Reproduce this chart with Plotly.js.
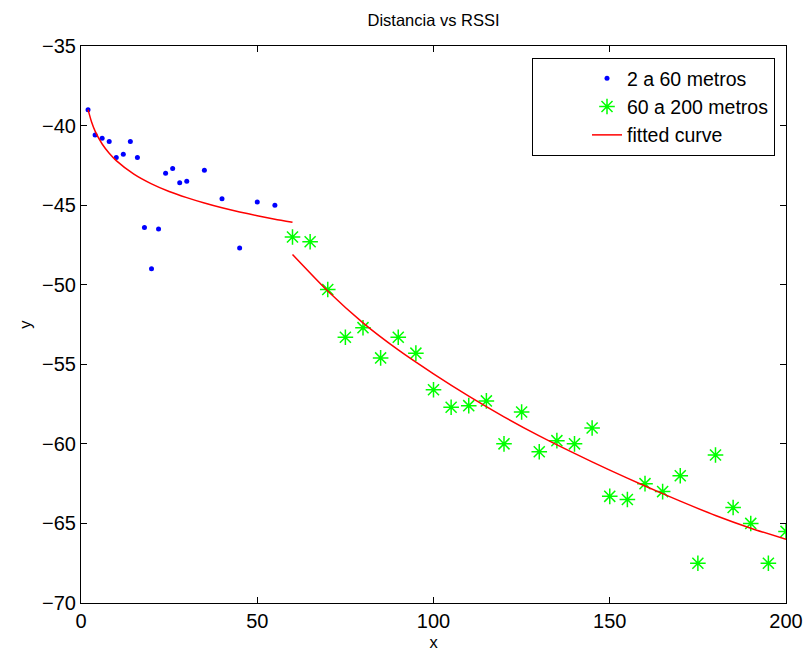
<!DOCTYPE html>
<html>
<head>
<meta charset="utf-8">
<script src="https://cdn.plot.ly/plotly-3.0.1.min.js"></script>
<style>html,body{margin:0;padding:0;background:#fff}#chart{width:806px;height:654px}</style>
</head>
<body>
<div id="chart"></div>
<script>
// Series 1: 2 a 60 metros
const nearX = [2, 4, 6, 8, 10, 12, 14, 16, 18, 20, 22, 24, 26, 28, 30, 35, 40, 45, 50, 55];
const nearY = [-39.0, -40.6, -40.8, -41.0, -42.0, -41.8, -41.0, -42.0, -46.4, -49.0, -46.5, -43.0, -42.7, -43.6, -43.5, -42.8, -44.6, -47.7, -44.8, -45.0];

// Series 2: 60 a 200 metros
const farX = [60, 65, 70, 75, 80, 85, 90, 95, 100, 105, 110, 115, 120, 125, 130, 135, 140, 145, 150, 155, 160, 165, 170, 175, 180, 185, 190, 195, 200];
const farY = [-47.0, -47.3, -50.3, -53.3, -52.7, -54.6, -53.3, -54.3, -56.6, -57.7, -57.6, -57.3, -60.0, -58.0, -60.5, -59.8, -60.0, -59.0, -63.3, -63.5, -62.5, -63.0, -62.0, -67.5, -60.7, -64.0, -65.0, -67.5, -65.5];

// Fitted curve, segment 1 and segment 2
const fit1X = [2, 3, 4, 6, 8, 10, 15, 20, 25, 30, 35, 40, 45, 50, 55, 60];
const fit1Y = [-39.0, -39.78, -40.35, -41.16, -41.74, -42.2, -43.05, -43.66, -44.14, -44.53, -44.87, -45.17, -45.43, -45.66, -45.88, -46.07];
const fit2X = [60, 70, 80, 90, 100, 110, 120, 130, 140, 150, 160, 170, 180, 190, 200];
const fit2Y = [-48.1, -50.4, -52.4, -54.1, -55.6, -57.0, -58.3, -59.5, -60.6, -61.65, -62.65, -63.6, -64.5, -65.3, -66.0];

const seriesNames = ["2 a 60 metros", "60 a 200 metros", "fitted curve"];
const xTicks = [0, 50, 100, 150, 200];
const yTicks = [-70, -65, -60, -55, -50, -45, -40, -35];

const FONT = "Liberation Sans, Arial, Helvetica, sans-serif";

const traces = [
  {
    x: nearX, y: nearY, name: seriesNames[0], type: "scatter", mode: "markers",
    marker: {color: "#0000ff", size: 5, symbol: "circle"}
  },
  {
    x: farX, y: farY, name: seriesNames[1], type: "scatter", mode: "markers",
    marker: {color: "#00ff00", size: 13, symbol: "asterisk-open", line: {color: "#00ff00", width: 1.5}}
  },
  {
    x: fit1X.concat([null], fit2X), y: fit1Y.concat([null], fit2Y),
    name: seriesNames[2], type: "scatter", mode: "lines", connectgaps: false,
    line: {color: "#ff0000", width: 1.5, shape: "spline", smoothing: 0.6}
  }
];

const axisCommon = {
  showgrid: false, zeroline: false, showline: true, linecolor: "#000", linewidth: 1,
  mirror: "ticks", ticks: "inside", ticklen: 6, tickcolor: "#000", tickwidth: 1,
  tickfont: {family: FONT, size: 20, color: "#000"}
};

const layout = {
  width: 806, height: 654,
  paper_bgcolor: "#fff", plot_bgcolor: "#fff",
  margin: {l: 81, r: 20, t: 46, b: 51, pad: 0},
  font: {family: FONT, color: "#000"},
  title: {text: "Distancia vs RSSI", font: {family: FONT, size: 16.5, color: "#000"},
          x: 0.5, xref: "paper", xanchor: "center", y: 1 - 20/654, yref: "container", yanchor: "middle"},
  xaxis: Object.assign({}, axisCommon, {
    range: [0, 200], tickvals: xTicks, ticktext: xTicks.map(String),
    title: {text: "x", font: {family: FONT, size: 16.5, color: "#000"}, standoff: 5}
  }),
  yaxis: Object.assign({}, axisCommon, {
    range: [-70, -35], tickvals: yTicks, ticktext: yTicks.map(v => "\u2212" + Math.abs(v)),
    title: {text: "y", font: {family: FONT, size: 16.5, color: "#000"}, standoff: 6}
  }),
  showlegend: true,
  legend: {
    x: (775 - 81) / (786 - 81), xref: "paper", xanchor: "right",
    y: 1 - (58 - 46) / (603 - 46), yref: "paper", yanchor: "top",
    bgcolor: "#fff", bordercolor: "#000", borderwidth: 1,
    font: {family: FONT, size: 19.5, color: "#000"},
    indentation: 54, tracegroupgap: 0, itemsizing: "trace"
  }
};

Plotly.newPlot("chart", traces, layout, {displayModeBar: false, staticPlot: true});
</script>
</body>
</html>
